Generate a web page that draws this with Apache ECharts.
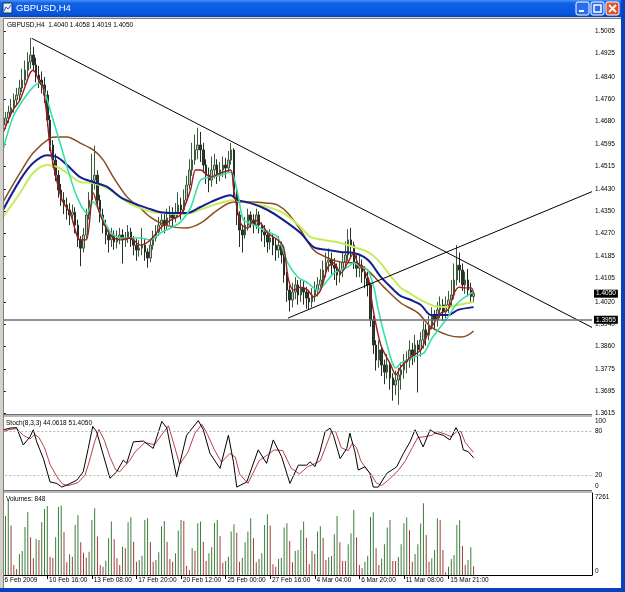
<!DOCTYPE html>
<html>
<head>
<meta charset="utf-8">
<script src="https://cdn.jsdelivr.net/npm/echarts@6.0.0/dist/echarts.min.js"></script>
<style>
html,body{margin:0;padding:0;background:#fff;overflow:hidden}
#chart{width:625px;height:592px}
</style>
</head>
<body>
<div id="chart"></div>
<script>
// ---------------- data ----------------
const symbolTitle = 'GBPUSD,H4';
const lastBar = ['1.4040', '1.4058', '1.4019', '1.4050'];
const stochTitle = 'Stoch(8,3,3) 44.0618 51.4050';
const volumeTitle = 'Volumes: 848';

const xLabelBars = [0, 16, 32, 48, 64, 80, 96, 112, 128, 144, 160];
const xLabels = ['6 Feb 2009', '10 Feb 16:00', '13 Feb 08:00', '17 Feb 20:00', '20 Feb 12:00',
  '25 Feb 00:00', '27 Feb 16:00', '4 Mar 04:00', '6 Mar 20:00', '11 Mar 08:00', '15 Mar 21:00'];
const priceTicks = [1.5005, 1.4925, 1.4840, 1.4760, 1.4680, 1.4595, 1.4515, 1.4430, 1.4350,
  1.4270, 1.4185, 1.4105, 1.4020, 1.3940, 1.3860, 1.3775, 1.3695, 1.3615];
const stochTicks = [100, 80, 20, 0];
const stochLevels = [20, 80];
const volumeTicks = [7261, 0];
const hLinePrice = 1.3955;
const bidPrice = 1.4050;

const opens = [
1.4640,1.4665,1.4690,1.4712,1.4727,1.4756,1.4774,1.4800,1.4829,1.4865,
1.4895,1.4920,1.4884,1.4847,1.4829,1.4811,1.4774,1.4683,1.4592,1.4537,
1.4482,1.4428,1.4391,1.4373,1.4355,1.4337,1.4347,1.4300,1.4246,1.4216,
1.4264,1.4337,1.4391,1.4464,1.4482,1.4391,1.4337,1.4300,1.4264,1.4246,
1.4264,1.4238,1.4253,1.4264,1.4246,1.4253,1.4275,1.4246,1.4227,1.4209,
1.4216,1.4227,1.4202,1.4180,1.4227,1.4253,1.4275,1.4300,1.4318,1.4300,
1.4326,1.4337,1.4326,1.4347,1.4373,1.4355,1.4391,1.4446,1.4501,1.4537,
1.4574,1.4592,1.4574,1.4519,1.4482,1.4464,1.4501,1.4519,1.4482,1.4501,
1.4519,1.4508,1.4537,1.4574,1.4428,1.4337,1.4282,1.4264,1.4300,1.4337,
1.4318,1.4300,1.4337,1.4300,1.4275,1.4264,1.4238,1.4253,1.4227,1.4209,
1.4227,1.4191,1.4118,1.4063,1.4027,1.4056,1.4082,1.4045,1.4071,1.4056,
1.4034,1.4020,1.4045,1.4063,1.4082,1.4100,1.4136,1.4165,1.4173,1.4154,
1.4143,1.4118,1.4136,1.4165,1.4191,1.4246,1.4227,1.4165,1.4143,1.4154,
1.4129,1.4107,1.4082,1.3954,1.3863,1.3808,1.3845,1.3790,1.3764,1.3790,
1.3743,1.3717,1.3735,1.3754,1.3772,1.3801,1.3808,1.3845,1.3826,1.3863,
1.3845,1.3881,1.3918,1.3899,1.3936,1.3972,1.3954,1.3991,1.4009,1.3983,
1.4009,1.4027,1.4045,1.4100,1.4154,1.4136,1.4082,1.4100,1.4063,1.4040];
const closes = [
1.4665,1.4690,1.4712,1.4727,1.4756,1.4774,1.4800,1.4829,1.4865,1.4895,
1.4920,1.4884,1.4847,1.4829,1.4811,1.4774,1.4683,1.4592,1.4537,1.4482,
1.4428,1.4391,1.4373,1.4355,1.4337,1.4347,1.4300,1.4246,1.4216,1.4264,
1.4337,1.4391,1.4464,1.4482,1.4391,1.4337,1.4300,1.4264,1.4246,1.4264,
1.4238,1.4253,1.4264,1.4246,1.4253,1.4275,1.4246,1.4227,1.4209,1.4216,
1.4227,1.4202,1.4180,1.4227,1.4253,1.4275,1.4300,1.4318,1.4300,1.4326,
1.4337,1.4326,1.4347,1.4373,1.4355,1.4391,1.4446,1.4501,1.4537,1.4574,
1.4592,1.4574,1.4519,1.4482,1.4464,1.4501,1.4519,1.4482,1.4501,1.4519,
1.4508,1.4537,1.4574,1.4428,1.4337,1.4282,1.4264,1.4300,1.4337,1.4318,
1.4300,1.4337,1.4300,1.4275,1.4264,1.4238,1.4253,1.4227,1.4209,1.4227,
1.4191,1.4118,1.4063,1.4027,1.4056,1.4082,1.4045,1.4071,1.4056,1.4034,
1.4020,1.4045,1.4063,1.4082,1.4100,1.4136,1.4165,1.4173,1.4154,1.4143,
1.4118,1.4136,1.4165,1.4191,1.4246,1.4227,1.4165,1.4143,1.4154,1.4129,
1.4107,1.4082,1.3954,1.3863,1.3808,1.3845,1.3790,1.3764,1.3790,1.3743,
1.3717,1.3735,1.3754,1.3772,1.3801,1.3808,1.3845,1.3826,1.3863,1.3845,
1.3881,1.3918,1.3899,1.3936,1.3972,1.3954,1.3991,1.4009,1.3983,1.4009,
1.4027,1.4045,1.4100,1.4154,1.4136,1.4082,1.4100,1.4063,1.4040,1.4050];
const lows = [
1.4625,1.4650,1.4672,1.4695,1.4710,1.4735,1.4755,1.4785,1.4810,1.4840,
1.4870,1.4860,1.4820,1.4800,1.4780,1.4745,1.4660,1.4570,1.4510,1.4460,
1.4400,1.4370,1.4340,1.4320,1.4300,1.4310,1.4270,1.4220,1.4150,1.4200,
1.4250,1.4320,1.4380,1.4430,1.4370,1.4310,1.4270,1.4230,1.4200,1.4220,
1.4210,1.4215,1.4230,1.4160,1.4220,1.4235,1.4220,1.4190,1.4170,1.4185,
1.4190,1.4170,1.4145,1.4165,1.4210,1.4240,1.4260,1.4280,1.4270,1.4285,
1.4300,1.4290,1.4310,1.4330,1.4320,1.4340,1.4380,1.4430,1.4480,1.4520,
1.4540,1.4530,1.4490,1.4450,1.4420,1.4440,1.4470,1.4450,1.4460,1.4475,
1.4470,1.4490,1.4520,1.4400,1.4300,1.4220,1.4200,1.4250,1.4280,1.4290,
1.4270,1.4285,1.4270,1.4240,1.4220,1.4200,1.4210,1.4190,1.4170,1.4180,
1.4160,1.4090,1.4020,1.3985,1.4000,1.4030,1.4010,1.4020,1.4010,1.3995,
1.3990,1.4000,1.4020,1.4040,1.4060,1.4080,1.4110,1.4130,1.4120,1.4100,
1.4080,1.4090,1.4110,1.4140,1.4170,1.4180,1.4140,1.4110,1.4110,1.4090,
1.4070,1.4040,1.3930,1.3830,1.3770,1.3780,1.3750,1.3720,1.3740,1.3700,
1.3660,1.3680,1.3645,1.3700,1.3740,1.3760,1.3780,1.3790,1.3800,1.3690,
1.3820,1.3850,1.3860,1.3880,1.3920,1.3920,1.3930,1.3960,1.3950,1.3960,
1.3980,1.4000,1.4030,1.4080,1.4090,1.4060,1.4050,1.4040,1.4020,1.4019];
const highs = [
1.4690,1.4712,1.4735,1.4760,1.4780,1.4800,1.4830,1.4870,1.4900,1.4930,
1.4982,1.4950,1.4910,1.4880,1.4860,1.4840,1.4790,1.4700,1.4610,1.4560,
1.4500,1.4450,1.4420,1.4400,1.4380,1.4375,1.4365,1.4320,1.4260,1.4290,
1.4360,1.4420,1.4560,1.4590,1.4500,1.4410,1.4360,1.4320,1.4290,1.4290,
1.4280,1.4280,1.4290,1.4285,1.4275,1.4300,1.4290,1.4260,1.4250,1.4245,
1.4290,1.4250,1.4215,1.4250,1.4280,1.4300,1.4330,1.4350,1.4340,1.4360,
1.4370,1.4365,1.4380,1.4420,1.4400,1.4430,1.4480,1.4540,1.4600,1.4630,
1.4655,1.4640,1.4600,1.4540,1.4510,1.4550,1.4560,1.4540,1.4530,1.4550,
1.4545,1.4570,1.4599,1.4580,1.4440,1.4350,1.4300,1.4330,1.4360,1.4350,
1.4340,1.4360,1.4350,1.4310,1.4300,1.4280,1.4285,1.4270,1.4250,1.4260,
1.4240,1.4200,1.4130,1.4080,1.4090,1.4110,1.4100,1.4100,1.4095,1.4075,
1.4060,1.4070,1.4095,1.4110,1.4140,1.4170,1.4200,1.4215,1.4200,1.4180,
1.4160,1.4170,1.4200,1.4240,1.4285,1.4290,1.4240,1.4190,1.4190,1.4175,
1.4150,1.4130,1.4090,1.3970,1.3880,1.3880,1.3860,1.3810,1.3830,1.3800,
1.3760,1.3770,1.3780,1.3800,1.3830,1.3840,1.3880,1.3870,1.3900,1.3880,
1.3910,1.3950,1.3940,1.3970,1.4000,1.3990,1.4020,1.4040,1.4030,1.4040,
1.4060,1.4100,1.4160,1.4227,1.4200,1.4160,1.4130,1.4140,1.4090,1.4058];

const volumes = [
2907,5717,7261,4780,969,581,2035,2326,4651,6105,
3650,1615,3488,3392,5136,6395,6686,1777,1647,3650,
6589,6718,4167,1227,2003,1777,4845,5814,3165,2164,
1680,2261,5330,6460,3715,969,808,1389,3553,5168,
3456,1615,969,2746,2584,5103,5588,3230,1292,1454,
1873,5330,5491,3198,1292,1454,2196,4716,5233,3230,
1550,1292,2100,4296,5330,5233,904,485,2584,2358,
5007,5168,3230,1357,2100,2681,5039,5330,3779,1195,
1357,1777,4199,4910,4102,1292,1680,3165,4199,5491,
3553,1227,1550,2100,4845,5879,4780,1034,808,1550,
1680,4587,5007,3295,1227,2326,2423,4361,5168,3618,
1034,2326,2035,4199,4716,3618,1454,1712,1841,3941,
5717,3165,1357,1357,2972,4038,6299,3650,969,646,
1292,1873,5620,6072,2584,969,1583,2972,4587,5330,
1357,1357,1744,2972,5007,5556,4328,1292,2035,2972,
4974,6945,3876,1292,1615,2423,5491,5330,2423,258,
808,1550,1938,4845,5297,2810,969,1454,2681,848];

// moving averages: [bar, price]
const maFast = [[0.1,1.4636],[3.7,1.4720],[6.2,1.4756],[9.8,1.4854],[10.9,1.4865],[13.4,1.4818],[14.5,1.4803],[15.9,1.4694],[17,1.4585],[18.8,1.4490],[21.3,1.4391],[24.2,1.4344],[27.8,1.4246],[30,1.4246],[32.5,1.4417],[35,1.4337],[38.6,1.4264],[42.2,1.4246],[45.8,1.4253],[49.4,1.4227],[53,1.4246],[56.6,1.4289],[60.2,1.4318],[63.8,1.4337],[67.4,1.4428],[69.2,1.4501],[71,1.4501],[74.6,1.4475],[78.2,1.4490],[81.8,1.4501],[82.8,1.4439],[83.6,1.4391],[85.4,1.4307],[87.9,1.4289],[90,1.4318],[92.6,1.4307],[95.1,1.4271],[98.7,1.4246],[100.8,1.4220],[102.6,1.4100],[104.4,1.4063],[106.9,1.4074],[109.5,1.4063],[111.6,1.4038],[114.1,1.4063],[116.7,1.4147],[118.8,1.4162],[121.3,1.4125],[123.8,1.4162],[126,1.4198],[127.4,1.4162],[129.6,1.4136],[131.4,1.4100],[132.8,1.4001],[135.7,1.3863],[139.3,1.3790],[141.1,1.3754],[142.9,1.3783],[146.5,1.3819],[150.1,1.3845],[152.6,1.3906],[154.8,1.3943],[157.3,1.3980],[159.8,1.3991],[162,1.4052],[163.8,1.4074],[165.6,1.4071],[168.1,1.4071],[169,1.4052]];
const maAqua = [[0.1,1.4574],[3.7,1.4694],[7.3,1.4756],[10.9,1.4803],[13.4,1.4818],[15.2,1.4781],[18.1,1.4683],[20.6,1.4599],[23.1,1.4512],[26.7,1.4402],[30.3,1.4344],[32.5,1.4384],[35,1.4344],[38.6,1.4275],[42.2,1.4253],[45.8,1.4253],[49.4,1.4253],[53,1.4246],[56.6,1.4271],[60.2,1.4289],[63.8,1.4311],[67.4,1.4362],[71,1.4464],[74.6,1.4475],[78.2,1.4482],[81.8,1.4493],[84.3,1.4417],[86.4,1.4318],[89,1.4307],[91.5,1.4293],[95.1,1.4275],[98.7,1.4256],[102.3,1.4162],[105.9,1.4111],[109.5,1.4089],[113,1.4063],[116.7,1.4100],[118.8,1.4125],[121.3,1.4136],[123.8,1.4147],[126,1.4162],[128.5,1.4147],[131,1.4136],[133.2,1.4074],[134.6,1.4001],[137.5,1.3881],[141.1,1.3779],[142.9,1.3797],[147.6,1.3819],[151.2,1.3834],[153.7,1.3881],[156.2,1.3917],[159.8,1.3965],[162,1.4001],[164.5,1.4027],[167,1.4045],[169,1.4056]];
const maBrown = [[0.1,1.4384],[6.2,1.4490],[10.9,1.4563],[17,1.4617],[19.5,1.4621],[23.1,1.4621],[27.8,1.4599],[32.5,1.4574],[36.1,1.4537],[39.7,1.4475],[44.7,1.4402],[49.4,1.4362],[53,1.4329],[58.4,1.4300],[65.6,1.4289],[71,1.4307],[77.1,1.4355],[82.8,1.4384],[89,1.4384],[95.1,1.4380],[98.7,1.4373],[102.3,1.4344],[106.9,1.4282],[111.6,1.4209],[116.7,1.4180],[121.3,1.4165],[126,1.4162],[129.6,1.4147],[132.1,1.4125],[136.8,1.4074],[142.9,1.4016],[149,1.3980],[153.7,1.3929],[159.8,1.3899],[164.5,1.3892],[167,1.3899],[169,1.3914]];
const maBlue = [[0.1,1.4355],[6.2,1.4464],[10.9,1.4526],[15.9,1.4555],[19.5,1.4548],[23.1,1.4519],[27.8,1.4475],[32.5,1.4457],[37.5,1.4439],[42.2,1.4402],[46.9,1.4380],[51.9,1.4362],[56.6,1.4347],[62.7,1.4344],[66.3,1.4344],[71,1.4366],[74.6,1.4384],[81.8,1.4409],[84.3,1.4391],[89,1.4380],[95.1,1.4355],[100.8,1.4318],[106.9,1.4271],[111.6,1.4220],[116.7,1.4209],[121.3,1.4202],[126,1.4198],[129.6,1.4184],[132.1,1.4162],[135.7,1.4111],[140.4,1.4063],[142.9,1.4041],[146.5,1.4027],[150.1,1.4009],[153.7,1.3972],[159.8,1.3972],[163.4,1.3991],[169,1.4001]];
const maLime = [[0.1,1.4329],[6.2,1.4417],[10.9,1.4490],[15.9,1.4519],[19.5,1.4512],[23.1,1.4490],[27.8,1.4457],[32.5,1.4453],[38.6,1.4428],[44.7,1.4384],[49.4,1.4362],[54.1,1.4347],[59.1,1.4344],[63.8,1.4340],[68.5,1.4347],[73.5,1.4366],[82.8,1.4391],[89,1.4380],[95.1,1.4366],[100.8,1.4344],[106.9,1.4293],[110.5,1.4256],[115.2,1.4246],[121.3,1.4235],[126,1.4220],[131,1.4202],[134.6,1.4173],[140.4,1.4100],[142.9,1.4071],[145.4,1.4056],[150.1,1.4027],[154.8,1.4005],[159.8,1.4001],[163.4,1.4009],[169,1.4020]];

// stochastic: [bar, value]
const stochMain = [[0.2,82.5],[2.6,84.7],[5,85.5],[7.4,61.7],[9.8,73],[11,82.5],[12.2,66],[14.6,43],[17,11],[19.4,9],[21.2,4],[23,6.7],[26.6,13.5],[28.9,25],[30.7,57],[32.3,87],[33.7,80],[36.1,48],[38.5,16],[40.9,25],[43.3,41],[44.5,36.5],[46.9,66],[50.5,67],[54,57],[57.1,94],[58.9,85],[62.4,18],[66,75],[70.2,95],[72,82.5],[74.4,50],[78,29.6],[81,75],[82.8,38.7],[84,4],[87.6,11],[91.7,55],[94.7,36.5],[97.1,68.6],[100.1,45.6],[103.1,9],[106.1,34],[109.1,34],[110.3,38.7],[112.1,32],[113.9,52.5],[115.7,80],[117.5,84.7],[118.7,75],[121.1,43],[123.5,57],[124.6,77.8],[126.4,52.5],[127.6,27.3],[130,31.8],[131.8,22.7],[133,4],[134.8,4],[137.8,22.7],[141.4,31.8],[143.8,50],[146.2,66],[148,82.5],[150.9,59],[153.4,82.5],[155.2,78],[158.1,75],[160.5,68.6],[162.7,85.5],[164.1,75],[165.3,55],[167.1,52.5],[169,44.06]];
const stochSignal = [[0.2,80],[2.6,83],[5,84],[7.4,75],[9.8,70],[11.5,76],[13,72],[15,58],[17,35],[19.5,18],[21.5,8],[23.5,6],[27,10],[29.5,20],[31,38],[33,66],[34.5,83],[36.5,68],[38.5,45],[40.5,28],[42,25],[44,34],[45.5,40],[47.5,52],[51,65],[54.5,62],[57.5,78],[59.5,88],[61.5,62],[63.5,35],[66.5,52],[69,78],[71.5,90],[73.5,76],[76,55],[78.5,38],[81.5,50],[83.5,45],[85,22],[88,9],[92,40],[95,48],[97.5,55],[100.5,54],[103.5,30],[106.5,22],[109.5,32],[112,36],[114,40],[116,60],[118,80],[119.5,80],[121.5,58],[124,54],[125.5,64],[127,58],[128.5,40],[130.5,29],[132.5,20],[134,10],[136,6],[138.5,14],[142,27],[144.5,40],[147,58],[149,72],[151.5,73],[154,75],[156,80],[158.5,77],[161,73],[163,80],[164.5,80],[166,65],[169,51.4]];

// trend lines: [bar, price]
const trendDown = [[10.4, 1.4981], [211.5, 1.3927]];
const trendUp = [[102.4, 1.3961], [211.5, 1.4422]];

// ---------------- layout ----------------
const SLOTS = 212;
const slotNames = Array.from({length: SLOTS}, (_, i) => String(i));
const candleData = opens.map((o, i) => [o, closes[i], lows[i], highs[i]]);
const volData = volumes.map((v, i) => ({
  value: v,
  itemStyle: {color: (i > 0 && v > volumes[i - 1]) || i === 0 ? '#3d7d3d' : '#a23a3a'}
}));

const FONT = 'Liberation Sans';
const gridL = 1.31, gridW = 590.69;
const PMAX = 1.50513, PMIN = 1.36114;
const isLabelBar = (idx) => xLabelBars.indexOf(idx) >= 0;

const chart = echarts.init(document.getElementById('chart'), null, {renderer: 'canvas'});

const frame = [
  {type: 'rect', z: 100, shape: {x: 0, y: 0, width: 625, height: 17},
   style: {fill: new echarts.graphic.LinearGradient(0, 0, 0, 1, [
     {offset: 0, color: '#4a92f6'}, {offset: 0.18, color: '#1262e6'},
     {offset: 0.8, color: '#0656e0'}, {offset: 1, color: '#0545c0'}])}},
  {type: 'rect', z: 101, shape: {x: 3, y: 3, width: 9, height: 10}, style: {fill: '#e8eef8', stroke: '#203050', lineWidth: 1}},
  {type: 'polyline', z: 102, shape: {points: [[4, 11], [6, 7], [8, 9], [11, 5]]}, style: {stroke: '#2050c0', lineWidth: 1, fill: null}},
  {type: 'text', z: 101, style: {x: 16, y: 8.5, text: symbolTitle, fill: '#ffffff', font: '9.5px "Liberation Sans"', verticalAlign: 'middle'}},
  {type: 'rect', z: 101, shape: {x: 576, y: 2, width: 13, height: 13, r: 2}, style: {fill: '#2c6cf0', stroke: '#ffffff', lineWidth: 1}},
  {type: 'rect', z: 102, shape: {x: 579, y: 10, width: 5, height: 2}, style: {fill: '#ffffff'}},
  {type: 'rect', z: 101, shape: {x: 591, y: 2, width: 13, height: 13, r: 2}, style: {fill: '#2c6cf0', stroke: '#ffffff', lineWidth: 1}},
  {type: 'rect', z: 102, shape: {x: 594, y: 5, width: 7, height: 7}, style: {fill: null, stroke: '#ffffff', lineWidth: 1.5}},
  {type: 'rect', z: 101, shape: {x: 606, y: 2, width: 13, height: 13, r: 2}, style: {fill: '#e0522c', stroke: '#ffffff', lineWidth: 1}},
  {type: 'line', z: 102, shape: {x1: 609, y1: 5, x2: 616, y2: 12}, style: {stroke: '#ffffff', lineWidth: 1.8}},
  {type: 'line', z: 102, shape: {x1: 616, y1: 5, x2: 609, y2: 12}, style: {stroke: '#ffffff', lineWidth: 1.8}},
  {type: 'rect', z: 100, shape: {x: 0, y: 17, width: 625, height: 1.5}, style: {fill: '#d4d0c8'}},
  {type: 'rect', z: 100, shape: {x: 0, y: 17, width: 3, height: 575}, style: {fill: '#d4d0c8'}},
  {type: 'line', z: 100, shape: {x1: 3.5, y1: 18.5, x2: 3.5, y2: 588}, style: {stroke: '#808080', lineWidth: 1}},
  {type: 'line', z: 100, shape: {x1: 3.5, y1: 18.5, x2: 621, y2: 18.5}, style: {stroke: '#808080', lineWidth: 1}},
  {type: 'rect', z: 100, shape: {x: 621, y: 0, width: 4, height: 592}, style: {fill: '#0842c0'}},
  {type: 'rect', z: 100, shape: {x: 0, y: 588, width: 625, height: 4}, style: {fill: '#0842c0'}},
  {type: 'rect', z: 90, shape: {x: 4, y: 414, width: 588, height: 3}, style: {fill: '#b8b8b8'}},
  {type: 'line', z: 91, shape: {x1: 4, y1: 414.5, x2: 592, y2: 414.5}, style: {stroke: '#707070', lineWidth: 1}},
  {type: 'rect', z: 90, shape: {x: 4, y: 490, width: 588, height: 3}, style: {fill: '#b8b8b8'}},
  {type: 'line', z: 91, shape: {x1: 4, y1: 490.5, x2: 592, y2: 490.5}, style: {stroke: '#707070', lineWidth: 1}},
  {type: 'text', z: 95, style: {x: 7, y: 25, text: symbolTitle + '  ' + lastBar.join(' '), fill: '#000', font: '6.5px "Liberation Sans"', verticalAlign: 'middle'}},
  {type: 'text', z: 95, style: {x: 6, y: 423, text: stochTitle, fill: '#000', font: '6.5px "Liberation Sans"', verticalAlign: 'middle'}},
  {type: 'text', z: 95, style: {x: 6, y: 499, text: volumeTitle, fill: '#000', font: '6.5px "Liberation Sans"', verticalAlign: 'middle'}}
];

const axisLbl = {color: '#000', fontSize: 6.5, fontFamily: FONT, margin: 3};
const boxLabel = (txt) => ({show: true, position: 'end', formatter: txt, color: '#fff', backgroundColor: '#000',
  padding: [1, 2, 0, 2], fontSize: 6.5, fontFamily: FONT, distance: 2});

const option = {
  animation: false,
  backgroundColor: '#ffffff',
  graphic: {elements: frame},
  grid: [
    {left: gridL, top: 19, width: gridW, height: 395, outerBoundsMode: 'none'},
    {left: gridL, top: 417, width: gridW, height: 73, outerBoundsMode: 'none'},
    {left: gridL, top: 493, width: gridW, height: 82, outerBoundsMode: 'none'}
  ],
  xAxis: [
    {type: 'category', gridIndex: 0, data: slotNames, boundaryGap: true, show: false},
    {type: 'value', gridIndex: 0, min: -0.5, max: SLOTS - 0.5, show: false},
    {type: 'value', gridIndex: 1, min: -0.5, max: SLOTS - 0.5, show: false},
    {type: 'category', gridIndex: 2, data: slotNames, boundaryGap: true,
     axisLine: {show: true, lineStyle: {color: '#000', width: 1}},
     axisTick: {show: true, alignWithLabel: true, interval: isLabelBar, length: 4, lineStyle: {color: '#000'}},
     axisLabel: Object.assign({}, axisLbl, {interval: isLabelBar, align: 'left', margin: 2,
       formatter: (v) => { const k = xLabelBars.indexOf(Number(v)); return k >= 0 ? ' ' + xLabels[k] : ''; }}),
     splitLine: {show: false}}
  ],
  yAxis: [
    {type: 'value', gridIndex: 0, position: 'right', min: PMIN, max: PMAX,
     axisLine: {show: true, lineStyle: {color: '#000'}},
     axisTick: {show: true, customValues: priceTicks, length: 3, lineStyle: {color: '#000'}},
     axisLabel: Object.assign({}, axisLbl, {customValues: priceTicks, formatter: v => v.toFixed(4)}),
     splitLine: {show: false}},
    {type: 'value', gridIndex: 1, position: 'right', min: 0, max: 100,
     axisLine: {show: true, lineStyle: {color: '#000'}},
     axisTick: {show: false},
     axisLabel: Object.assign({}, axisLbl, {customValues: stochTicks,
       formatter: v => v === 100 ? '{dn|100}' : (v === 0 ? '{up|0}' : String(v)),
       rich: {dn: {fontSize: 6.5, fontFamily: FONT, color: '#000', padding: [8, 0, 0, 0]},
              up: {fontSize: 6.5, fontFamily: FONT, color: '#000', padding: [0, 0, 8, 0]}}}),
     splitLine: {show: false}},
    {type: 'value', gridIndex: 2, position: 'right', min: 0, max: 7938,
     axisLine: {show: true, lineStyle: {color: '#000'}},
     axisTick: {show: false},
     axisLabel: Object.assign({}, axisLbl, {customValues: volumeTicks,
       formatter: v => v === 0 ? '{up|0}' : '{dn|' + v + '}',
       rich: {dn: {fontSize: 6.5, fontFamily: FONT, color: '#000', padding: [0, 0, 6, 0]},
              up: {fontSize: 6.5, fontFamily: FONT, color: '#000', padding: [0, 0, 8, 0]}}}),
     splitLine: {show: false}}
  ],
  series: [
    {type: 'candlestick', xAxisIndex: 0, yAxisIndex: 0, data: candleData, barWidth: 2,
     itemStyle: {color: '#c4c4c4', color0: '#2e3a2e', borderColor: '#3a5a3a', borderColor0: '#243024', borderWidth: 1}},
    {type: 'line', xAxisIndex: 1, yAxisIndex: 0, data: maBrown, showSymbol: false, smooth: 0.3, lineStyle: {color: '#8a4b1e', width: 1.5}},
    {type: 'line', xAxisIndex: 1, yAxisIndex: 0, data: maLime, showSymbol: false, smooth: 0.3, lineStyle: {color: '#c6ec5c', width: 2}},
    {type: 'line', xAxisIndex: 1, yAxisIndex: 0, data: maBlue, showSymbol: false, smooth: 0.3, lineStyle: {color: '#10208e', width: 2}},
    {type: 'line', xAxisIndex: 1, yAxisIndex: 0, data: maAqua, showSymbol: false, smooth: 0.3, lineStyle: {color: '#36e0a8', width: 1.6}},
    {type: 'line', xAxisIndex: 1, yAxisIndex: 0, data: maFast, showSymbol: false, smooth: 0.3, lineStyle: {color: '#9a1c1c', width: 1.4}},
    {type: 'line', xAxisIndex: 1, yAxisIndex: 0, data: trendDown, showSymbol: false, lineStyle: {color: '#000', width: 1}},
    {type: 'line', xAxisIndex: 1, yAxisIndex: 0, data: trendUp, showSymbol: false, lineStyle: {color: '#000', width: 1},
     markLine: {silent: true, symbol: 'none', animation: false, precision: 4,
       data: [
         {yAxis: hLinePrice, lineStyle: {color: '#6e6e6e', width: 1.5, type: 'solid'}, label: boxLabel(hLinePrice.toFixed(4))},
         {yAxis: bidPrice, lineStyle: {color: 'rgba(255,255,255,0)', width: 0.01}, label: boxLabel(bidPrice.toFixed(4))}
       ]}},
    {type: 'line', xAxisIndex: 2, yAxisIndex: 1, data: stochSignal, showSymbol: false, lineStyle: {color: '#b8404a', width: 1},
     markLine: {silent: true, symbol: 'none', label: {show: false},
       lineStyle: {color: '#b4b4b4', type: [2, 2], width: 1},
       data: stochLevels.map(v => ({yAxis: v}))}},
    {type: 'line', xAxisIndex: 2, yAxisIndex: 1, data: stochMain, showSymbol: false, lineStyle: {color: '#000', width: 1}},
    {type: 'bar', xAxisIndex: 3, yAxisIndex: 2, data: volData, barWidth: 1}
  ]
};
chart.setOption(option);
</script>
</body>
</html>
